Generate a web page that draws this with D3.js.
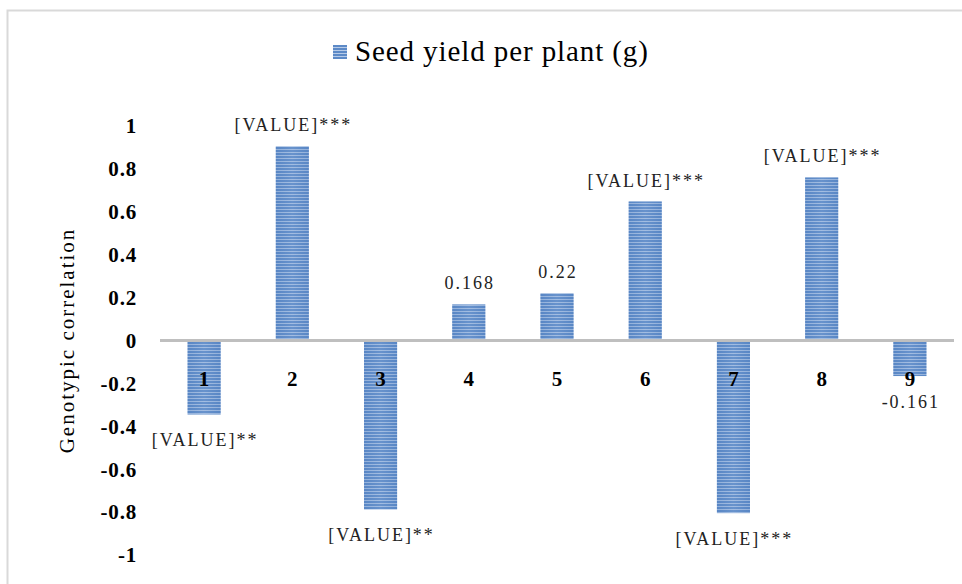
<!DOCTYPE html>
<html>
<head>
<meta charset="utf-8">
<script src="https://cdn.jsdelivr.net/npm/d3@7"></script>
<style>
  body { margin: 0; background: #fff; }
  text { font-family: 'Liberation Serif', 'Times New Roman', 'DejaVu Serif', serif; }
</style>
</head>
<body>
<div id="chart"></div>
<script>
// data
var categories = ["1", "2", "3", "4", "5", "6", "7", "8", "9"];
var values = [-0.34, 0.905, -0.783, 0.168, 0.22, 0.648, -0.80, 0.76, -0.161];
var valueLabels = ["[VALUE]**", "[VALUE]***", "[VALUE]**", "0.168", "0.22", "[VALUE]***", "[VALUE]***", "[VALUE]***", "-0.161"];
var yTicks = [1, 0.8, 0.6, 0.4, 0.2, 0, -0.2, -0.4, -0.6, -0.8, -1];
var seriesName = "Seed yield per plant (g)";

var W = 962, H = 584;
var margin = { top: 126, right: 9, bottom: 29, left: 160 },
    width = W - margin.left - margin.right,
    height = H - margin.top - margin.bottom;

var svg = d3.select("#chart")
    .append("svg")
    .attr("width", W)
    .attr("height", H);

// striped fill like the original
var defs = svg.append("defs");
var grad = defs.append("linearGradient").attr("id", "barGrad")
    .attr("x1", "0%").attr("x2", "100%").attr("y1", "0%").attr("y2", "0%");
grad.append("stop").attr("offset", "0%").attr("stop-color", "#4f7fc0");
grad.append("stop").attr("offset", "50%").attr("stop-color", "#7da3d6");
grad.append("stop").attr("offset", "100%").attr("stop-color", "#4f7fc0");

var pat = defs.append("pattern").attr("id", "stripes")
    .attr("patternUnits", "userSpaceOnUse")
    .attr("width", 8).attr("height", 3);
pat.append("rect").attr("width", 8).attr("height", 3).attr("fill", "#5d8ac7");
pat.append("rect").attr("y", 2).attr("width", 8).attr("height", 1).attr("fill", "#b7cbe8");

// outer border (top/left visible)
svg.append("rect")
    .attr("x", 7.5).attr("y", 10.5)
    .attr("width", 970).attr("height", 600)
    .attr("fill", "none")
    .attr("stroke", "#d9d9d9")
    .attr("stroke-width", 2);

var g = svg.append("g")
    .attr("transform", "translate(" + margin.left + "," + margin.top + ")");

var x = d3.scaleBand()
    .domain(categories)
    .range([0, 794])
    .paddingInner(0.625)
    .paddingOuter(0.3125);

var y = d3.scaleLinear()
    .domain([-1, 1])
    .range([height, 0]);

// bars
var bars = g.selectAll(".bar")
    .data(values)
    .enter().append("g")
    .attr("class", "bar");

bars.append("rect")
    .attr("x", function (d, i) { return x(categories[i]); })
    .attr("y", function (d) { return d >= 0 ? y(d) : y(0) + 1; })
    .attr("width", x.bandwidth())
    .attr("height", function (d) { return Math.abs(y(d) - y(0)); })
    .style("fill", "url(#stripes)");

// soft shading across the bar
bars.append("rect")
    .attr("x", function (d, i) { return x(categories[i]); })
    .attr("y", function (d) { return d >= 0 ? y(d) : y(0) + 1; })
    .attr("width", x.bandwidth())
    .attr("height", function (d) { return Math.abs(y(d) - y(0)); })
    .style("fill", "url(#barGrad)")
    .style("opacity", 0.35);

// zero line
g.append("line")
    .attr("x1", 0).attr("x2", 794)
    .attr("y1", y(0)).attr("y2", y(0))
    .attr("stroke", "#bfbfbf")
    .attr("stroke-width", 3);

// y tick labels
g.selectAll(".ytick")
    .data(yTicks)
    .enter().append("text")
    .attr("class", "ytick")
    .attr("x", -23)
    .attr("y", function (d) { return y(d); })
    .attr("dy", "0.35em")
    .style("text-anchor", "end")
    .style("font-size", "21px")
    .style("font-weight", "bold")
    .style("letter-spacing", "0.8px")
    .text(function (d) { return d; });

// category labels
g.selectAll(".xcat")
    .data(categories)
    .enter().append("text")
    .attr("class", "xcat")
    .attr("x", function (d) { return x(d) + x.bandwidth() / 2; })
    .attr("y", y(0) + 45)
    .style("text-anchor", "middle")
    .style("font-size", "21px")
    .style("font-weight", "bold")
    .text(function (d) { return d; });

// value labels
g.selectAll(".vlab")
    .data(values)
    .enter().append("text")
    .attr("class", "vlab")
    .attr("x", function (d, i) { return x(categories[i]) + x.bandwidth() / 2 + 1; })
    .attr("y", function (d) { return d >= 0 ? y(d) - 15 : y(d) + 33; })
    .style("text-anchor", "middle")
    .style("font-size", "18px")
    .style("letter-spacing", "2px")
    .style("fill", "#222")
    .text(function (d, i) { return valueLabels[i]; });

// y axis title
svg.append("text")
    .attr("transform", "translate(74," + (margin.top + y(0)) + ") rotate(-90)")
    .style("text-anchor", "middle")
    .style("font-size", "21px")
    .style("letter-spacing", "2px")
    .text("Genotypic correlation");

// legend
var legend = svg.append("g").attr("transform", "translate(333,45)");
legend.append("rect")
    .attr("width", 14).attr("height", 14)
    .style("fill", "url(#stripes)");
legend.append("text")
    .attr("x", 22).attr("y", 16)
    .style("font-size", "29px")
    .style("letter-spacing", "0.9px")
    .text(seriesName);
</script>
</body>
</html>
